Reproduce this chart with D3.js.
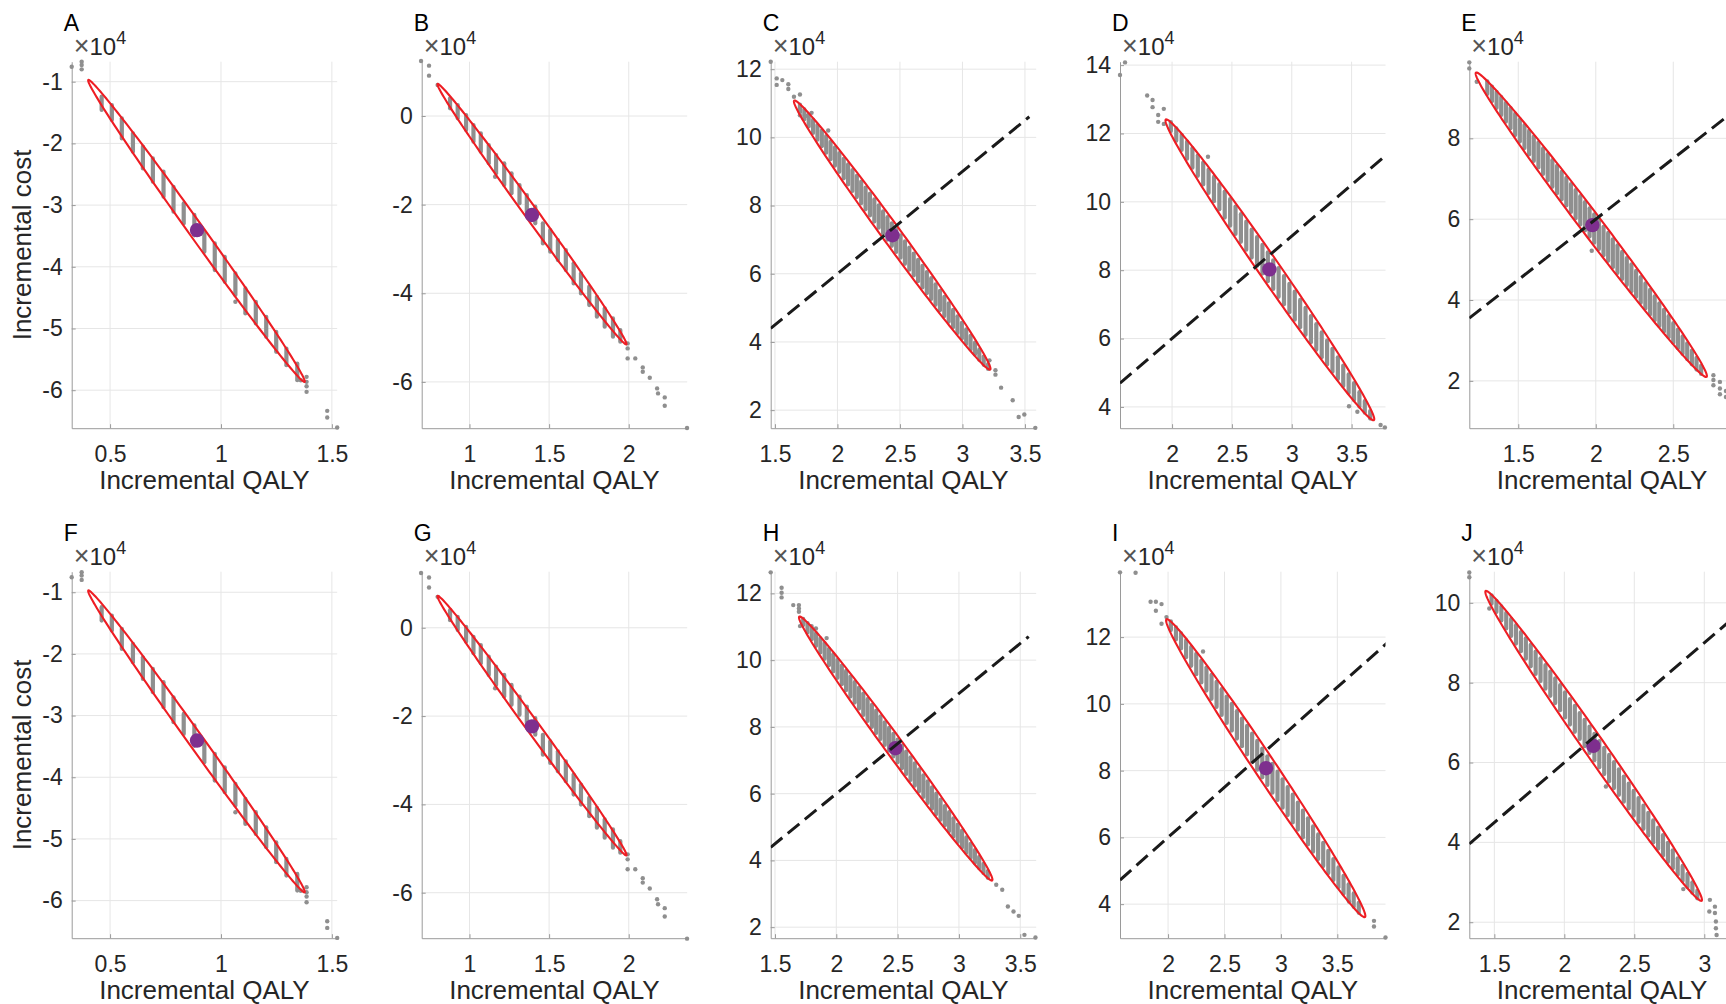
<!DOCTYPE html>
<html><head><meta charset="utf-8">
<script src="https://cdn.jsdelivr.net/npm/d3@7"></script>
<style>body{margin:0;background:#fff;overflow:hidden} svg{display:block;font-family:"Liberation Sans",Arial,Helvetica,sans-serif;}</style>
</head><body><svg id="chart" width="1726" height="1004"></svg>
<script>
// ---------------- DATA (cost values in units of 10^4) ----------------
const panelLetters = ["A","B","C","D","E","F","G","H","I","J"];
const xDomains = [[0.327,1.524],[0.70,2.367],[1.466,3.59],[1.565,3.783],[1.184,2.897],[0.327,1.524],[0.70,2.367],[1.465,3.63],[1.574,3.927],[1.321,3.218]];
const yDomains = [[-6.616,-0.676],[-7.045,1.226],[1.47,12.22],[3.377,14.1],[0.829,9.896],[-6.61,-0.667],[-7.03,1.27],[1.67,12.65],[2.98,13.96],[1.6,10.78]];
const xTicks = [[0.5,1,1.5],[1,1.5,2],[1.5,2,2.5,3,3.5],[2,2.5,3,3.5],[1.5,2,2.5,3],[0.5,1,1.5],[1,1.5,2],[1.5,2,2.5,3,3.5],[2,2.5,3,3.5],[1.5,2,2.5,3]];
const yTicks = [[-6,-5,-4,-3,-2,-1],[-6,-4,-2,0],[2,4,6,8,10,12],[4,6,8,10,12,14],[2,4,6,8],[-6,-5,-4,-3,-2,-1],[-6,-4,-2,0],[2,4,6,8,10,12],[4,6,8,10,12],[2,4,6,8,10]];
const meanPoints = [[0.892,-3.405],[1.392,-2.234],[2.44,7.13],[2.813,8.023],[1.978,5.854],[0.892,-3.405],[1.392,-2.234],[2.482,7.362],[2.868,8.073],[2.207,6.417]];
// ellipse major-axis tips [x1,y1,x2,y2]
const ellipseTips = [[0.402,-0.972,1.377,-5.865],[0.800,0.723,1.985,-5.154],[1.654,11.08,3.222,3.19],[1.948,12.41,3.686,3.613],[1.227,9.625,2.715,2.10],[0.402,-0.972,1.377,-5.865],[0.800,0.723,1.985,-5.154],[1.698,11.304,3.271,3.40],[1.986,12.534,3.745,3.612],[1.438,10.297,2.981,2.537]];
const ellipseAxisRatio = [0.04,0.04,0.056,0.058,0.056,0.04,0.04,0.056,0.06,0.055];
const wtpSlope = 3; // 30,000 per QALY
const wtpRange = [null,null,[1.466,3.535],[1.565,3.9],[1.184,3.3],null,null,[1.465,3.569],[1.574,3.95],[1.321,3.3]];

// simulated point clouds: vertical bands [qaly, costLow, costHigh]
const stripesA = [[0.462,-1.459,-1.243],[0.508,-1.621,-1.378],[0.553,-1.919,-1.594],[0.603,-2.135,-1.838],[0.648,-2.405,-2.054],[0.693,-2.621,-2.243],[0.741,-2.865,-2.459],[0.786,-3.108,-2.703],[0.832,-3.297,-2.973],[0.880,-3.49,-3.16],[0.925,-3.757,-3.432],[0.972,-4.054,-3.621],[1.017,-4.243,-3.838],[1.065,-4.459,-4.108],[1.110,-4.757,-4.351],[1.157,-4.919,-4.567],[1.204,-5.135,-4.811],[1.249,-5.378,-5.054],[1.295,-5.595,-5.324],[1.344,-5.838,-5.568]];
const pointsA = [[0.327,-0.757],[0.372,-0.676],[0.372,-0.730],[0.372,-0.80],[1.065,-4.567],[1.360,-5.84],[1.386,-5.784],[1.386,-5.865],[1.386,-5.935],[1.386,-6.027],[1.479,-6.335],[1.479,-6.443],[1.524,-6.605]];

const stripesB = [[0.878,0.173,0.399],[0.926,-0.052,0.249],[0.979,-0.316,0.023],[1.025,-0.579,-0.203],[1.071,-0.805,-0.391],[1.121,-1.068,-0.654],[1.167,-1.294,-0.880],[1.218,-1.557,-1.068],[1.264,-1.745,-1.294],[1.314,-1.971,-1.557],[1.360,-2.159,-1.783],[1.413,-2.422,-2.046],[1.461,-2.874,-2.422],[1.507,-3.062,-2.573],[1.555,-3.250,-2.799],[1.605,-3.476,-3.024],[1.654,-3.777,-3.325],[1.700,-4.003,-3.551],[1.752,-4.266,-3.852],[1.800,-4.529,-4.078],[1.849,-4.755,-4.341],[1.901,-4.981,-4.567],[1.947,-5.094,-4.830]];
const pointsB = [[0.696,1.242],[0.746,1.137],[0.746,0.911],[0.800,0.700],[1.161,-1.369],[1.993,-5.131],[1.993,-5.244],[1.993,-5.47],[2.041,-5.47],[2.088,-5.673],[2.088,-5.771],[2.132,-5.906],[2.178,-6.147],[2.184,-6.26],[2.226,-6.35],[2.226,-6.538],[2.366,-7.04]];

const stripesC = [[1.700,10.74,10.96],[1.735,10.53,10.82],[1.770,10.32,10.67],[1.805,10.13,10.52],[1.840,9.93,10.36],[1.875,9.74,10.20],[1.910,9.55,10.04],[1.945,9.36,9.87],[1.980,9.17,9.71],[2.015,8.99,9.54],[2.050,8.80,9.37],[2.085,8.62,9.21],[2.120,8.43,9.04],[2.155,8.25,8.87],[2.190,8.07,8.70],[2.225,7.89,8.53],[2.260,7.71,8.35],[2.295,7.53,8.18],[2.330,7.35,8.01],[2.365,7.17,7.83],[2.400,7.00,7.66],[2.435,6.82,7.48],[2.470,6.64,7.30],[2.505,6.47,7.13],[2.540,6.29,6.95],[2.575,6.12,6.77],[2.610,5.95,6.59],[2.645,5.78,6.41],[2.680,5.60,6.23],[2.715,5.43,6.05],[2.750,5.26,5.87],[2.785,5.09,5.69],[2.820,4.93,5.50],[2.855,4.76,5.32],[2.890,4.59,5.13],[2.925,4.43,4.94],[2.960,4.26,4.75],[2.995,4.10,4.56],[3.030,3.94,4.37],[3.065,3.78,4.18],[3.100,3.63,3.98],[3.135,3.48,3.78],[3.170,3.33,3.57],[3.205,3.21,3.35]];
const pointsC = [[1.466,12.22],[1.514,11.73],[1.514,11.54],[1.559,11.68],[1.607,11.56],[1.607,11.42],[1.652,11.19],[1.700,11.26],[1.700,10.65],[1.748,10.63],[1.793,10.72],[1.926,10.20],[3.110,3.95],[3.123,3.71],[3.216,3.46],[3.264,3.17],[3.264,3.04],[3.309,2.66],[3.402,2.29],[3.450,1.80],[3.495,1.87],[3.583,1.48]];

const stripesD = [[1.990,12.07,12.33],[2.035,11.79,12.15],[2.080,11.52,11.96],[2.125,11.26,11.76],[2.170,11.00,11.57],[2.215,10.76,11.36],[2.260,10.51,11.15],[2.305,10.26,10.94],[2.350,10.02,10.73],[2.395,9.78,10.52],[2.440,9.54,10.30],[2.485,9.30,10.08],[2.530,9.06,9.86],[2.575,8.83,9.64],[2.620,8.60,9.42],[2.665,8.37,9.19],[2.710,8.13,8.97],[2.755,7.90,8.74],[2.800,7.68,8.52],[2.845,7.45,8.29],[2.890,7.22,8.06],[2.935,7.00,7.83],[2.980,6.77,7.60],[3.025,6.55,7.37],[3.070,6.33,7.13],[3.115,6.11,6.90],[3.160,5.89,6.66],[3.205,5.67,6.42],[3.250,5.45,6.18],[3.295,5.24,5.94],[3.340,5.03,5.70],[3.385,4.82,5.45],[3.430,4.61,5.21],[3.475,4.41,4.95],[3.520,4.20,4.70],[3.565,4.01,4.43],[3.610,3.83,4.17],[3.655,3.66,3.88]];
const pointsD = [[1.565,13.71],[1.607,14.08],[1.792,13.11],[1.837,12.98],[1.837,12.77],[1.884,12.54],[1.931,12.72],[1.884,12.34],[1.931,12.28],[2.300,11.32],[3.478,4.02],[3.548,3.86],[3.742,3.47],[3.778,3.40]];

const stripesE = [[1.30,9.10,9.41],[1.33,8.92,9.28],[1.36,8.75,9.15],[1.39,8.58,9.02],[1.42,8.41,8.88],[1.45,8.25,8.75],[1.48,8.08,8.61],[1.51,7.92,8.47],[1.54,7.76,8.33],[1.57,7.60,8.19],[1.60,7.44,8.04],[1.63,7.28,7.90],[1.66,7.12,7.75],[1.69,6.96,7.61],[1.72,6.80,7.46],[1.75,6.64,7.32],[1.78,6.49,7.17],[1.81,6.34,7.02],[1.84,6.18,6.87],[1.87,6.02,6.72],[1.90,5.87,6.57],[1.93,5.72,6.42],[1.96,5.57,6.27],[1.99,5.42,6.12],[2.02,5.26,5.96],[2.05,5.11,5.81],[2.08,4.97,5.66],[2.11,4.81,5.50],[2.14,4.67,5.35],[2.17,4.52,5.19],[2.20,4.37,5.04],[2.23,4.22,4.88],[2.26,4.08,4.72],[2.29,3.93,4.57],[2.32,3.79,4.41],[2.35,3.64,4.25],[2.38,3.50,4.09],[2.41,3.36,3.92],[2.44,3.22,3.76],[2.47,3.08,3.60],[2.50,2.94,3.43],[2.53,2.81,3.27],[2.56,2.67,3.10],[2.59,2.54,2.93],[2.62,2.41,2.75],[2.65,2.28,2.57],[2.68,2.17,2.38]];
const pointsE = [[1.184,9.88],[1.184,9.73],[1.232,9.40],[1.974,5.22],[2.759,2.14],[2.759,2.02],[2.759,1.89],[2.801,1.975],[2.801,1.81],[2.801,1.67],[2.84,1.75],[2.84,1.60]];

const stripesH = [[1.730,11.05,11.24],[1.765,10.83,11.11],[1.800,10.63,10.96],[1.835,10.43,10.81],[1.870,10.23,10.65],[1.905,10.04,10.50],[1.940,9.85,10.34],[1.975,9.66,10.18],[2.010,9.47,10.01],[2.045,9.28,9.84],[2.080,9.10,9.68],[2.115,8.91,9.51],[2.150,8.73,9.34],[2.185,8.55,9.18],[2.220,8.36,9.00],[2.255,8.18,8.83],[2.290,8.00,8.66],[2.325,7.82,8.49],[2.360,7.64,8.32],[2.395,7.46,8.14],[2.430,7.29,7.97],[2.465,7.11,7.79],[2.500,6.94,7.62],[2.535,6.76,7.44],[2.570,6.59,7.26],[2.605,6.41,7.09],[2.640,6.24,6.91],[2.675,6.07,6.73],[2.710,5.90,6.55],[2.745,5.72,6.37],[2.780,5.55,6.19],[2.815,5.39,6.00],[2.850,5.22,5.82],[2.885,5.05,5.63],[2.920,4.88,5.45],[2.955,4.72,5.26],[2.990,4.55,5.07],[3.025,4.39,4.89],[3.060,4.23,4.69],[3.095,4.07,4.50],[3.130,3.92,4.31],[3.165,3.77,4.11],[3.200,3.62,3.90],[3.235,3.48,3.68]];
const pointsH = [[1.465,12.63],[1.554,12.17],[1.554,12.02],[1.554,11.88],[1.649,11.65],[1.695,11.65],[1.695,11.55],[1.695,11.45],[1.704,11.02],[1.798,11.02],[1.834,10.95],[1.921,10.66],[3.304,3.27],[3.353,3.12],[3.399,2.62],[3.445,2.47],[3.488,2.34],[3.534,1.77],[3.624,1.69]];

const stripesI = [[2.025,12.21,12.47],[2.070,11.93,12.29],[2.115,11.66,12.11],[2.160,11.40,11.91],[2.205,11.14,11.71],[2.250,10.89,11.50],[2.295,10.64,11.30],[2.340,10.40,11.09],[2.385,10.15,10.87],[2.430,9.91,10.66],[2.475,9.67,10.44],[2.520,9.43,10.22],[2.565,9.20,10.00],[2.610,8.96,9.78],[2.655,8.73,9.56],[2.700,8.49,9.34],[2.745,8.26,9.11],[2.790,8.03,8.89],[2.835,7.80,8.66],[2.880,7.57,8.43],[2.925,7.34,8.20],[2.970,7.12,7.97],[3.015,6.89,7.74],[3.060,6.67,7.51],[3.105,6.45,7.28],[3.150,6.23,7.04],[3.195,6.00,6.80],[3.240,5.79,6.57],[3.285,5.57,6.33],[3.330,5.35,6.09],[3.375,5.14,5.84],[3.420,4.93,5.60],[3.465,4.72,5.35],[3.510,4.51,5.10],[3.555,4.31,4.85],[3.600,4.11,4.59],[3.645,3.92,4.32],[3.690,3.74,4.04]];
const pointsI = [[1.574,13.94],[1.712,13.93],[1.845,13.06],[1.892,13.06],[1.942,12.99],[1.892,12.79],[1.942,12.40],[1.986,12.60],[2.310,11.57],[3.604,4.08],[3.825,3.50],[3.825,3.33],[3.927,3.00]];

const stripesJ = [[1.480,9.98,10.19],[1.515,9.77,10.05],[1.550,9.56,9.91],[1.585,9.36,9.75],[1.620,9.17,9.60],[1.655,8.98,9.44],[1.690,8.79,9.27],[1.725,8.60,9.11],[1.760,8.41,8.95],[1.795,8.22,8.78],[1.830,8.04,8.61],[1.865,7.85,8.44],[1.900,7.67,8.28],[1.935,7.49,8.11],[1.970,7.31,7.94],[2.005,7.13,7.76],[2.040,6.95,7.59],[2.075,6.77,7.42],[2.110,6.59,7.24],[2.145,6.41,7.07],[2.180,6.24,6.90],[2.215,6.06,6.72],[2.250,5.88,6.54],[2.285,5.71,6.37],[2.320,5.53,6.19],[2.355,5.36,6.01],[2.390,5.19,5.83],[2.425,5.02,5.65],[2.460,4.85,5.47],[2.495,4.67,5.29],[2.530,4.51,5.11],[2.565,4.34,4.92],[2.600,4.17,4.74],[2.635,4.00,4.55],[2.670,3.84,4.37],[2.705,3.67,4.18],[2.740,3.51,3.99],[2.775,3.35,3.80],[2.810,3.19,3.60],[2.845,3.03,3.41],[2.880,2.88,3.21],[2.915,2.74,3.00],[2.950,2.60,2.79]];
const pointsJ = [[1.321,10.76],[1.321,10.64],[1.464,9.86],[2.297,5.40],[2.850,2.83],[3.040,2.56],[3.036,2.27],[3.076,2.39],[3.076,2.23],[3.083,2.02],[3.083,1.85],[3.088,1.68]];

const panelStripes = [stripesA,stripesB,stripesC,stripesD,stripesE,stripesA,stripesB,stripesH,stripesI,stripesJ];
const panelPoints = [pointsA,pointsB,pointsC,pointsD,pointsE,pointsA,pointsB,pointsH,pointsI,pointsJ];

// ---------------- LAYOUT ----------------
const SVG_W = 1726;
const plotLefts = [71.7,421.7,770.7,1120,1469.3];
const plotTops = [61.7,571.7];
const PW = 265.5, PH = 366.5;
const tickFont = 23, labelFont = 26;
const textColor = "#262626";
const cloudColor = "#8f8f8f";

const svg = d3.select("#chart");

panelLetters.forEach((letter,i)=>{
  const col = i%5, row = Math.floor(i/5);
  const L = plotLefts[col], T = plotTops[row];
  const g = svg.append("g").attr("transform",`translate(${L},${T})`);
  const x = d3.scaleLinear().domain(xDomains[i]).range([0,PW]);
  const y = d3.scaleLinear().domain(yDomains[i]).range([PH,0]);
  const visX = xTicks[i].filter(d=>L+x(d) < SVG_W-8);

  // grid
  g.append("g").selectAll("line").data(xTicks[i].filter(d=>x(d)<=PW+0.5)).join("line")
    .attr("x1",d=>x(d)).attr("x2",d=>x(d)).attr("y1",0).attr("y2",PH)
    .attr("stroke","#e6e6e6").attr("stroke-width",1);
  g.append("g").selectAll("line").data(yTicks[i]).join("line")
    .attr("y1",d=>y(d)).attr("y2",d=>y(d)).attr("x1",0).attr("x2",PW)
    .attr("stroke","#e6e6e6").attr("stroke-width",1);

  // axes
  const xa = g.append("g").attr("transform",`translate(0,${PH})`)
    .call(d3.axisBottom(x).tickValues(visX).tickSizeInner(-4).tickSizeOuter(0).tickPadding(17).tickFormat(d=>String(d)));
  const ya = g.append("g")
    .call(d3.axisLeft(y).tickValues(yTicks[i]).tickSizeInner(-4).tickSizeOuter(0).tickPadding(9).tickFormat(d=>String(d)));
  [xa,ya].forEach(a=>{
    a.select(".domain").attr("stroke","#9a9a9a");
    a.selectAll(".tick line").attr("stroke","#9a9a9a");
    a.selectAll(".tick text").attr("fill",textColor).style("font-size",tickFont+"px").style("font-family","'Liberation Sans',Arial,sans-serif");
  });
  xa.selectAll(".tick text").attr("dy","0.72em");

  // point cloud bands
  g.append("g").selectAll("line").data(panelStripes[i]).join("line")
    .attr("x1",d=>x(d[0])).attr("x2",d=>x(d[0]))
    .attr("y1",d=>y(d[1])).attr("y2",d=>y(d[2]))
    .attr("stroke",cloudColor).attr("stroke-width",4.2).attr("stroke-linecap","round");
  g.append("g").selectAll("circle").data(panelPoints[i]).join("circle")
    .attr("cx",d=>x(d[0])).attr("cy",d=>y(d[1])).attr("r",2.2)
    .attr("fill",cloudColor);

  // ellipse
  const e = ellipseTips[i];
  const x1=x(e[0]), y1=y(e[1]), x2=x(e[2]), y2=y(e[3]);
  const cx=(x1+x2)/2, cy=(y1+y2)/2, mx=(x2-x1)/2, my=(y2-y1)/2;
  const len=Math.hypot(mx,my), nx=-my/len, ny=mx/len, b=ellipseAxisRatio[i]*len;
  const pts = d3.range(0,361,2).map(a=>{const t=a*Math.PI/180;return [cx+Math.cos(t)*mx+Math.sin(t)*b*nx, cy+Math.cos(t)*my+Math.sin(t)*b*ny];});
  g.append("path").attr("d",d3.line()(pts)+"Z").attr("fill","none").attr("stroke","#ee1d23").attr("stroke-width",2.1);

  // mean
  g.append("circle").attr("cx",x(meanPoints[i][0])).attr("cy",y(meanPoints[i][1])).attr("r",7.2).attr("fill","#7e2f8e");

  // WTP threshold line
  if (wtpRange[i]) {
    const cid = "clip"+i;
    g.append("clipPath").attr("id",cid).append("rect").attr("x",0).attr("y",0).attr("width",PW).attr("height",PH);
    const r = wtpRange[i];
    g.append("line").attr("clip-path",`url(#${cid})`)
      .attr("x1",x(r[0])).attr("y1",y(wtpSlope*r[0])).attr("x2",x(r[1])).attr("y2",y(wtpSlope*r[1]))
      .attr("stroke","#1a1a1a").attr("stroke-width",3).attr("stroke-dasharray","15,7");
  }

  // exponent label
  const ex = g.append("text").attr("x",2).attr("y",-7).attr("fill",textColor).style("font-size","24px");
  ex.append("tspan").style("font-size","27px").attr("fill","#555").style("font-weight","300").text("×");
  ex.append("tspan").text("10");
  ex.append("tspan").attr("dy",-11).style("font-size","18px").text("4");

  // panel letter
  g.append("text").attr("x",-8).attr("y",-31).attr("fill","#000").style("font-size","23px").text(letter);

  // axis labels
  g.append("text").attr("x",PW/2).attr("y",PH+60.5).attr("text-anchor","middle").attr("fill",textColor)
    .style("font-size",labelFont+"px").text("Incremental QALY");
  if (col===0) {
    g.append("text").attr("transform",`translate(${31-L},${PH/2}) rotate(-90)`).attr("text-anchor","middle")
      .attr("fill",textColor).style("font-size",labelFont+"px").text("Incremental cost");
  }
});
</script></body></html>
